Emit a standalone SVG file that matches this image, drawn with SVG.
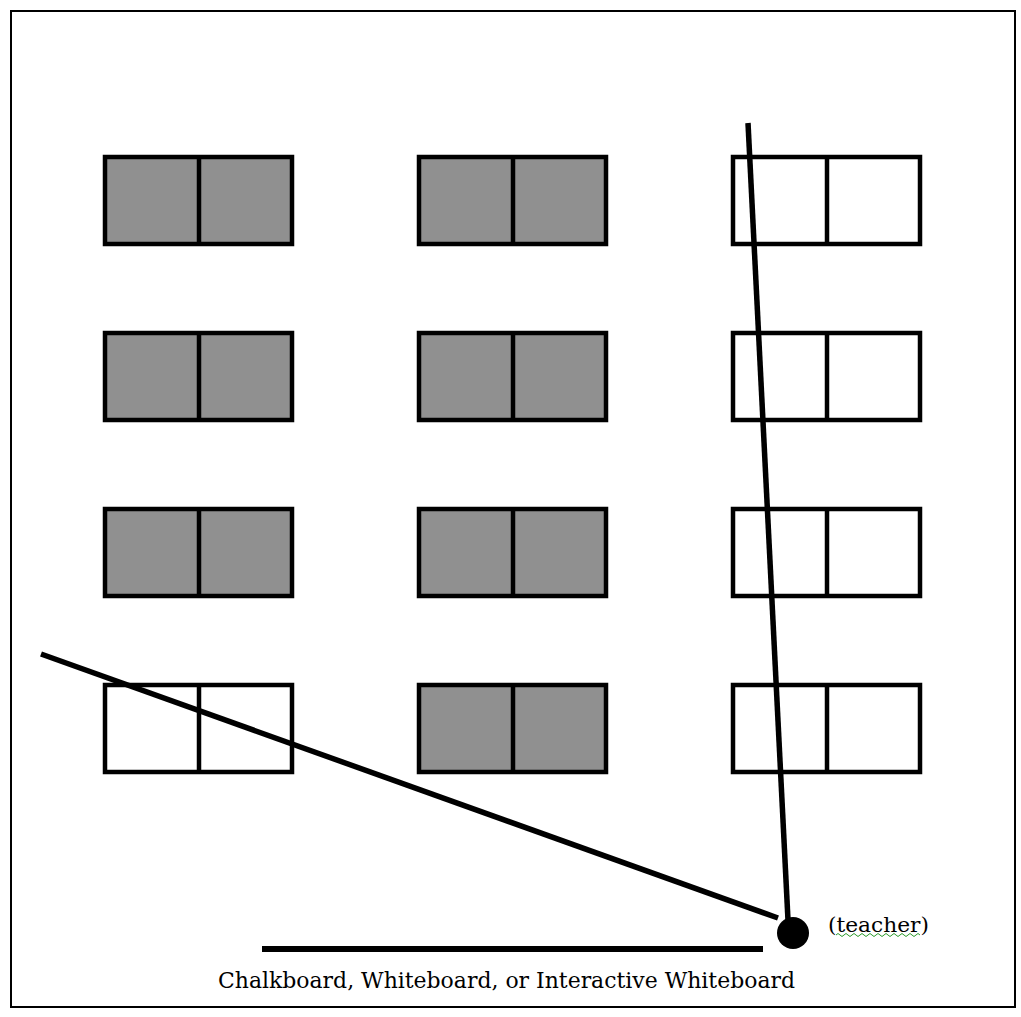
<svg xmlns="http://www.w3.org/2000/svg" width="1021" height="1017" viewBox="0 0 1021 1017">
<style>
.desk{stroke:#000;stroke-width:4.5;}
.occ{fill:#909090;}
.emp{fill:#fff;}
.sight{stroke:#000;stroke-width:5.5;stroke-linecap:butt;fill:none;}
.lbl{font-family:"DejaVu Serif","Liberation Serif",serif;fill:#000;}
</style>
<rect x="0" y="0" width="1021" height="1017" fill="#fff"/>
<rect x="11" y="11" width="1004" height="996" fill="none" stroke="#000" stroke-width="2"/>
<defs>
<g id="deskOcc"><rect class="desk occ" x="0" y="0" width="187" height="87"/><line class="desk" x1="94" y1="0" x2="94" y2="87"/></g>
<g id="deskEmp"><rect class="desk emp" x="0" y="0" width="187" height="87"/><line class="desk" x1="94" y1="0" x2="94" y2="87"/></g>
</defs>
<g id="desk-r1c1"><use href="#deskOcc" x="105" y="157"/></g>
<g id="desk-r1c2"><use href="#deskOcc" x="419" y="157"/></g>
<g id="desk-r1c3"><use href="#deskEmp" x="733" y="157"/></g>
<g id="desk-r2c1"><use href="#deskOcc" x="105" y="333"/></g>
<g id="desk-r2c2"><use href="#deskOcc" x="419" y="333"/></g>
<g id="desk-r2c3"><use href="#deskEmp" x="733" y="333"/></g>
<g id="desk-r3c1"><use href="#deskOcc" x="105" y="509"/></g>
<g id="desk-r3c2"><use href="#deskOcc" x="419" y="509"/></g>
<g id="desk-r3c3"><use href="#deskEmp" x="733" y="509"/></g>
<g id="desk-r4c1"><use href="#deskEmp" x="105" y="685"/></g>
<g id="desk-r4c2"><use href="#deskOcc" x="419" y="685"/></g>
<g id="desk-r4c3"><use href="#deskEmp" x="733" y="685"/></g>
<g id="connectors">
<line class="sight" x1="748" y1="123" x2="788" y2="920"/>
<line class="sight" x1="41" y1="654" x2="778" y2="918"/>
</g>
<g id="teacher">
<circle cx="793" cy="933" r="16" fill="#000"/>
<text class="lbl" x="828" y="932" font-size="20" textLength="101" lengthAdjust="spacingAndGlyphs">(teacher)</text>
<path d="M836,935 q2,-3 4,0 t4,0 t4,0 t4,0 t4,0 t4,0 t4,0 t4,0 t4,0 t4,0 t4,0 t4,0 t4,0 t4,0 t4,0 t4,0 t4,0 t4,0 t4,0 t4,0 t4,0" fill="none" stroke="#2a9a2a" stroke-width="1"/>
</g>
<g id="board">
<line x1="262" y1="949" x2="763" y2="949" stroke="#000" stroke-width="6"/>
<text class="lbl" x="218" y="988" font-size="21.5" textLength="577" lengthAdjust="spacingAndGlyphs">Chalkboard, Whiteboard, or Interactive Whiteboard</text>
</g>
</svg>
